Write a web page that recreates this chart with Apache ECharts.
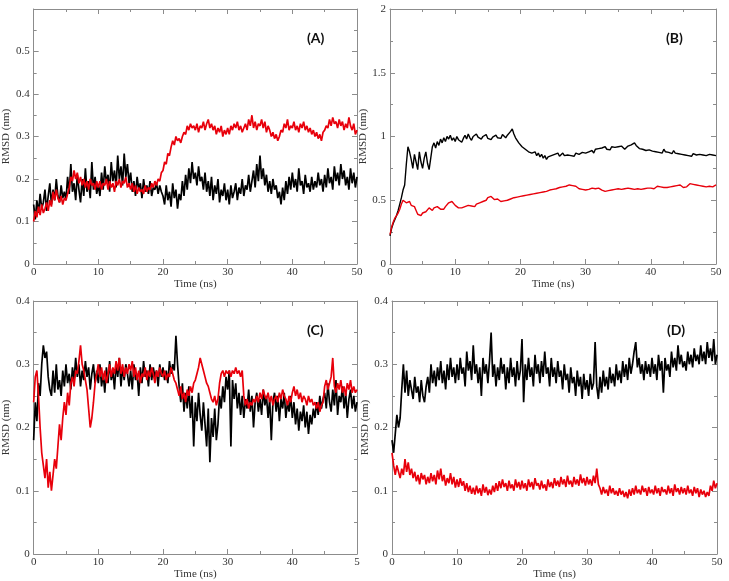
<!DOCTYPE html>
<html>
<head>
<meta charset="utf-8">
<script src="https://cdn.jsdelivr.net/npm/echarts@6/dist/echarts.min.js"></script>
<style>
  html, body { margin: 0; padding: 0; background: #fff; }
  #rmsdCharts { width: 729px; height: 581px; }
</style>
</head>
<body>
<div id="rmsdCharts"></div>
<script>
// sampling grid of the trajectories (ns)
var timeNs = [];
for (var i = 0; i <= 200; i++) timeNs.push(i * 0.25);

var xTicks = [0, 10, 20, 30, 40, 50];

// (A)
var rmsdA_black = [
  0.140,0.105,0.150,0.120,0.165,0.130,0.145,0.175,0.125,0.160,0.190,0.140,0.175,0.150,0.200,0.160,0.145,0.185,0.155,0.170,
  0.150,0.205,0.165,0.235,0.170,0.190,0.150,0.210,0.175,0.145,0.200,0.160,0.225,0.170,0.195,0.155,0.240,0.175,0.205,0.165,
  0.185,0.160,0.215,0.175,0.230,0.190,0.210,0.170,0.240,0.195,0.220,0.180,0.255,0.200,0.230,0.185,0.260,0.205,0.235,0.190,
  0.215,0.170,0.195,0.160,0.205,0.175,0.190,0.155,0.200,0.170,0.185,0.165,0.195,0.160,0.180,0.175,0.190,0.165,0.185,0.170,
  0.160,0.140,0.185,0.150,0.170,0.135,0.190,0.155,0.175,0.130,0.165,0.150,0.195,0.160,0.210,0.175,0.225,0.190,0.240,0.200,
  0.215,0.185,0.230,0.195,0.205,0.175,0.215,0.170,0.195,0.160,0.205,0.150,0.185,0.165,0.200,0.145,0.175,0.160,0.190,0.150,
  0.175,0.140,0.185,0.155,0.170,0.190,0.150,0.180,0.165,0.200,0.160,0.185,0.175,0.210,0.170,0.195,0.220,0.180,0.235,0.195,
  0.255,0.200,0.225,0.185,0.210,0.170,0.195,0.165,0.200,0.175,0.185,0.155,0.170,0.140,0.180,0.150,0.195,0.165,0.205,0.175,
  0.215,0.180,0.200,0.170,0.225,0.185,0.195,0.165,0.210,0.180,0.190,0.170,0.205,0.175,0.195,0.180,0.215,0.185,0.200,0.170,
  0.210,0.180,0.225,0.190,0.205,0.175,0.230,0.195,0.215,0.185,0.235,0.200,0.220,0.185,0.205,0.175,0.225,0.190,0.215,0.180,
  0.205
];
var rmsdA_red = [
  0.100,0.125,0.110,0.135,0.115,0.140,0.120,0.130,0.145,0.125,0.150,0.135,0.170,0.150,0.175,0.155,0.145,0.160,0.140,0.155,
  0.150,0.165,0.180,0.205,0.195,0.220,0.200,0.215,0.190,0.205,0.185,0.200,0.180,0.195,0.175,0.200,0.185,0.190,0.175,0.195,
  0.180,0.195,0.175,0.190,0.185,0.200,0.175,0.195,0.180,0.190,0.170,0.195,0.185,0.200,0.180,0.195,0.190,0.205,0.180,0.190,
  0.175,0.190,0.170,0.185,0.165,0.180,0.170,0.175,0.165,0.185,0.170,0.180,0.175,0.190,0.180,0.195,0.185,0.200,0.195,0.215,
  0.220,0.240,0.235,0.260,0.255,0.275,0.290,0.280,0.300,0.290,0.295,0.285,0.300,0.310,0.305,0.325,0.315,0.330,0.320,0.325,
  0.315,0.330,0.310,0.325,0.320,0.335,0.315,0.330,0.340,0.320,0.330,0.315,0.325,0.305,0.320,0.310,0.325,0.300,0.315,0.305,
  0.320,0.305,0.325,0.315,0.330,0.320,0.335,0.315,0.325,0.310,0.320,0.330,0.315,0.340,0.325,0.350,0.320,0.335,0.315,0.330,
  0.325,0.340,0.320,0.335,0.310,0.325,0.315,0.300,0.310,0.295,0.305,0.290,0.300,0.315,0.310,0.330,0.320,0.340,0.315,0.325,
  0.320,0.335,0.315,0.325,0.310,0.330,0.320,0.335,0.315,0.325,0.310,0.320,0.305,0.315,0.300,0.310,0.295,0.305,0.290,0.310,
  0.315,0.325,0.320,0.340,0.325,0.345,0.330,0.335,0.320,0.340,0.325,0.335,0.315,0.330,0.320,0.345,0.325,0.315,0.330,0.305,
  0.315
];

// (B)
var rmsdB_black = [
  0.220,0.280,0.320,0.350,0.380,0.420,0.470,0.520,0.580,0.620,0.780,0.920,0.880,0.820,0.750,0.860,0.800,0.740,0.880,0.800,
  0.750,0.830,0.880,0.790,0.740,0.830,0.920,0.950,0.910,0.960,0.930,0.980,0.950,0.990,0.960,1.000,0.980,1.010,0.970,0.990,
  0.960,1.000,0.975,0.990,0.955,0.985,1.010,0.980,1.020,0.990,0.970,1.000,0.985,1.020,0.995,1.010,0.980,1.000,0.990,1.015,
  0.985,1.000,0.975,0.995,0.980,1.010,0.990,1.005,0.985,1.015,1.000,0.990,1.010,1.000,1.040,1.060,1.020,0.990,0.970,0.950,
  0.940,0.920,0.930,0.900,0.910,0.880,0.890,0.870,0.860,0.880,0.850,0.870,0.840,0.860,0.830,0.850,0.820,0.840,0.830,0.850,
  0.840,0.860,0.850,0.870,0.845,0.860,0.870,0.850,0.865,0.855,0.870,0.850,0.860,0.845,0.870,0.855,0.860,0.850,0.875,0.860,
  0.870,0.855,0.880,0.865,0.890,0.870,0.900,0.885,0.905,0.890,0.910,0.895,0.920,0.900,0.910,0.895,0.920,0.905,0.915,0.900,
  0.920,0.905,0.925,0.910,0.900,0.915,0.925,0.910,0.935,0.920,0.950,0.930,0.920,0.905,0.915,0.900,0.910,0.890,0.905,0.895,
  0.900,0.885,0.895,0.880,0.890,0.875,0.885,0.870,0.900,0.880,0.895,0.875,0.880,0.865,0.890,0.870,0.880,0.865,0.875,0.860,
  0.870,0.855,0.865,0.850,0.860,0.845,0.865,0.850,0.855,0.840,0.860,0.845,0.855,0.840,0.850,0.835,0.860,0.845,0.855,0.840,
  0.850
];
var rmsdB_red = [
  0.230,0.290,0.330,0.360,0.380,0.400,0.430,0.470,0.500,0.490,0.480,0.470,0.490,0.460,0.470,0.450,0.420,0.390,0.400,0.380,
  0.400,0.390,0.410,0.420,0.440,0.430,0.420,0.440,0.430,0.450,0.440,0.430,0.445,0.430,0.450,0.460,0.480,0.470,0.490,0.475,
  0.460,0.450,0.440,0.455,0.440,0.430,0.450,0.440,0.460,0.450,0.455,0.465,0.450,0.470,0.460,0.480,0.470,0.490,0.480,0.500,
  0.520,0.510,0.530,0.515,0.505,0.520,0.510,0.500,0.490,0.505,0.495,0.485,0.500,0.490,0.510,0.505,0.520,0.515,0.525,0.510,
  0.530,0.520,0.535,0.525,0.540,0.530,0.545,0.535,0.550,0.540,0.555,0.545,0.560,0.550,0.565,0.555,0.570,0.575,0.580,0.570,
  0.585,0.575,0.590,0.580,0.600,0.590,0.605,0.595,0.610,0.600,0.620,0.605,0.615,0.600,0.610,0.595,0.590,0.600,0.585,0.575,
  0.580,0.590,0.585,0.600,0.595,0.605,0.590,0.600,0.595,0.585,0.580,0.575,0.570,0.580,0.575,0.585,0.580,0.590,0.585,0.595,
  0.590,0.600,0.585,0.595,0.590,0.600,0.595,0.605,0.590,0.600,0.585,0.595,0.590,0.600,0.585,0.595,0.590,0.600,0.595,0.585,
  0.595,0.605,0.590,0.600,0.610,0.595,0.605,0.590,0.600,0.610,0.600,0.615,0.605,0.595,0.610,0.600,0.615,0.605,0.620,0.610,
  0.600,0.615,0.605,0.620,0.630,0.615,0.625,0.610,0.620,0.605,0.615,0.600,0.610,0.595,0.605,0.600,0.610,0.620,0.605,0.615,
  0.620
];

// (C)
var rmsdC_black = [
  0.180,0.240,0.210,0.270,0.250,0.300,0.330,0.310,0.320,0.280,0.260,0.250,0.290,0.255,0.300,0.260,0.275,0.250,0.290,0.265,
  0.300,0.270,0.285,0.260,0.295,0.275,0.310,0.280,0.300,0.265,0.290,0.275,0.305,0.280,0.295,0.260,0.285,0.300,0.270,0.290,
  0.270,0.300,0.265,0.285,0.255,0.295,0.270,0.305,0.275,0.290,0.260,0.300,0.280,0.310,0.265,0.295,0.275,0.300,0.285,0.265,
  0.290,0.260,0.300,0.275,0.285,0.250,0.295,0.270,0.305,0.280,0.290,0.265,0.300,0.275,0.295,0.280,0.290,0.265,0.300,0.280,
  0.295,0.275,0.290,0.270,0.305,0.285,0.300,0.290,0.345,0.300,0.265,0.240,0.270,0.225,0.255,0.230,0.265,0.215,0.250,0.170,
  0.240,0.210,0.255,0.220,0.195,0.240,0.205,0.170,0.230,0.145,0.215,0.185,0.230,0.180,0.205,0.250,0.230,0.265,0.240,0.280,
  0.260,0.290,0.170,0.275,0.245,0.270,0.230,0.255,0.220,0.250,0.215,0.245,0.230,0.260,0.225,0.250,0.200,0.240,0.255,0.225,
  0.245,0.220,0.260,0.235,0.250,0.215,0.245,0.180,0.240,0.255,0.225,0.250,0.210,0.245,0.230,0.255,0.215,0.240,0.225,0.250,
  0.215,0.240,0.205,0.230,0.195,0.225,0.210,0.235,0.200,0.225,0.190,0.220,0.205,0.230,0.215,0.240,0.220,0.250,0.230,0.245,
  0.255,0.230,0.270,0.240,0.225,0.260,0.235,0.275,0.220,0.250,0.240,0.265,0.230,0.255,0.215,0.245,0.260,0.230,0.250,0.225,
  0.240
];
var rmsdC_red = [
  0.240,0.280,0.290,0.250,0.200,0.160,0.140,0.120,0.150,0.105,0.130,0.100,0.125,0.150,0.135,0.170,0.205,0.180,0.215,0.240,
  0.220,0.255,0.235,0.270,0.280,0.265,0.290,0.285,0.305,0.330,0.300,0.290,0.275,0.260,0.230,0.200,0.215,0.240,0.270,0.285,
  0.300,0.280,0.295,0.275,0.290,0.270,0.285,0.300,0.280,0.295,0.285,0.305,0.290,0.310,0.285,0.300,0.280,0.295,0.285,0.300,
  0.290,0.305,0.280,0.295,0.275,0.290,0.270,0.285,0.280,0.295,0.275,0.290,0.280,0.295,0.285,0.270,0.290,0.280,0.295,0.285,
  0.280,0.290,0.275,0.285,0.280,0.295,0.285,0.275,0.270,0.260,0.250,0.265,0.245,0.255,0.240,0.260,0.250,0.265,0.255,0.270,
  0.275,0.285,0.295,0.310,0.300,0.290,0.280,0.270,0.265,0.255,0.245,0.240,0.250,0.235,0.245,0.270,0.285,0.290,0.280,0.290,
  0.285,0.290,0.280,0.290,0.285,0.295,0.285,0.290,0.280,0.290,0.250,0.235,0.245,0.230,0.240,0.235,0.245,0.240,0.250,0.240,
  0.255,0.245,0.260,0.250,0.245,0.255,0.240,0.250,0.235,0.245,0.250,0.240,0.255,0.245,0.260,0.250,0.245,0.235,0.250,0.240,
  0.255,0.265,0.250,0.260,0.245,0.255,0.240,0.250,0.245,0.235,0.250,0.240,0.245,0.235,0.240,0.230,0.240,0.225,0.235,0.240,
  0.265,0.275,0.260,0.270,0.280,0.310,0.265,0.255,0.270,0.260,0.275,0.255,0.265,0.250,0.270,0.260,0.275,0.255,0.265,0.255,
  0.260
];

// (D)
var rmsdD_black = [
  0.180,0.160,0.190,0.220,0.200,0.215,0.260,0.300,0.255,0.290,0.250,0.275,0.260,0.245,0.280,0.255,0.265,0.240,0.275,0.250,
  0.240,0.265,0.280,0.255,0.300,0.270,0.290,0.265,0.295,0.275,0.305,0.270,0.290,0.260,0.300,0.275,0.310,0.280,0.295,0.270,
  0.300,0.275,0.310,0.285,0.295,0.265,0.320,0.290,0.305,0.275,0.330,0.285,0.300,0.270,0.295,0.250,0.310,0.285,0.300,0.270,
  0.305,0.350,0.280,0.300,0.265,0.295,0.275,0.310,0.285,0.300,0.260,0.295,0.270,0.310,0.280,0.295,0.265,0.305,0.275,0.290,
  0.340,0.240,0.300,0.275,0.310,0.280,0.295,0.265,0.315,0.285,0.300,0.270,0.305,0.280,0.320,0.285,0.295,0.265,0.310,0.280,
  0.295,0.270,0.305,0.280,0.290,0.260,0.300,0.275,0.285,0.255,0.295,0.270,0.280,0.250,0.290,0.265,0.280,0.245,0.285,0.260,
  0.275,0.250,0.285,0.260,0.270,0.335,0.265,0.245,0.280,0.255,0.290,0.265,0.280,0.260,0.295,0.270,0.285,0.265,0.300,0.275,
  0.290,0.270,0.305,0.280,0.300,0.275,0.310,0.285,0.300,0.320,0.335,0.295,0.310,0.285,0.300,0.275,0.305,0.285,0.300,0.280,
  0.310,0.285,0.300,0.275,0.315,0.290,0.305,0.255,0.310,0.290,0.300,0.280,0.320,0.295,0.310,0.290,0.330,0.300,0.315,0.295,
  0.305,0.290,0.320,0.300,0.315,0.295,0.325,0.305,0.315,0.300,0.330,0.305,0.320,0.300,0.335,0.310,0.325,0.305,0.340,0.300,
  0.315
];
var rmsdD_red = [
  0.160,0.140,0.125,0.140,0.130,0.120,0.135,0.125,0.150,0.130,0.145,0.125,0.135,0.120,0.130,0.115,0.125,0.110,0.128,0.118,
  0.125,0.110,0.122,0.112,0.128,0.115,0.125,0.110,0.132,0.118,0.135,0.115,0.125,0.108,0.120,0.112,0.128,0.110,0.122,0.105,
  0.118,0.106,0.120,0.108,0.115,0.100,0.112,0.098,0.108,0.095,0.105,0.094,0.108,0.096,0.104,0.092,0.110,0.097,0.106,0.093,
  0.102,0.094,0.108,0.098,0.112,0.100,0.115,0.104,0.118,0.106,0.112,0.100,0.116,0.104,0.110,0.100,0.118,0.105,0.114,0.102,
  0.116,0.104,0.112,0.100,0.118,0.106,0.114,0.102,0.120,0.108,0.112,0.102,0.116,0.104,0.110,0.100,0.118,0.106,0.114,0.104,
  0.120,0.108,0.116,0.106,0.122,0.110,0.118,0.106,0.124,0.110,0.116,0.106,0.122,0.110,0.118,0.108,0.126,0.112,0.120,0.108,
  0.122,0.110,0.118,0.108,0.124,0.112,0.135,0.110,0.104,0.094,0.106,0.096,0.102,0.092,0.108,0.096,0.104,0.094,0.100,0.092,
  0.104,0.094,0.100,0.090,0.098,0.088,0.102,0.092,0.104,0.094,0.108,0.096,0.102,0.094,0.108,0.098,0.104,0.092,0.106,0.096,
  0.102,0.094,0.108,0.096,0.104,0.092,0.106,0.098,0.102,0.094,0.108,0.096,0.104,0.092,0.110,0.098,0.104,0.094,0.106,0.096,
  0.104,0.094,0.108,0.096,0.102,0.092,0.106,0.096,0.104,0.090,0.102,0.094,0.100,0.090,0.098,0.092,0.108,0.100,0.116,0.104,
  0.112
];

var panels = [
  { tag: '(A)', left: 31,  top: 9,   width: 326, height: 255, yMax: 0.6, yStep: 0.1, hideTop: true,  lw: 1.7, black: rmsdA_black, red: rmsdA_red },
  { tag: '(B)', left: 390, top: 9,   width: 326, height: 255, yMax: 2,   yStep: 0.5, hideTop: false, lw: 1.4, black: rmsdB_black, red: rmsdB_red },
  { tag: '(C)', left: 32,  top: 301, width: 325, height: 254, yMax: 0.4, yStep: 0.1, hideTop: false, lw: 1.7, black: rmsdC_black, red: rmsdC_red, cutLast: true },
  { tag: '(D)', left: 392, top: 301, width: 325, height: 254, yMax: 0.4, yStep: 0.1, hideTop: false, lw: 1.7, black: rmsdD_black, red: rmsdD_red }
];

var frameColor = '#8c8c8c';
var labelFont = { color: '#333', fontFamily: 'Liberation Serif', fontSize: 11 };

function toPairs(vals) {
  return vals.map(function (v, i) { return [timeNs[i], v]; });
}

var grid = [], xAxis = [], yAxis = [], series = [], graphic = [];

panels.forEach(function (p, k) {
  grid.push({ left: p.left, top: p.top, width: p.width, height: p.height, show: false });

  var tick = { inside: true, length: 5, lineStyle: { color: frameColor } };
  var minor = { show: true, splitNumber: 2, length: 3, lineStyle: { color: frameColor } };
  var line = { show: true, onZero: false, lineStyle: { color: frameColor, width: 1 } };

  // bottom + top x axes
  xAxis.push({
    gridIndex: k, type: 'value', min: 0, max: 50, interval: 10, position: 'bottom',
    name: 'Time (ns)', nameLocation: 'middle', nameGap: 15,
    nameTextStyle: { color: '#333', fontFamily: 'Liberation Serif', fontSize: 11 },
    axisLine: line, axisTick: tick, minorTick: minor, splitLine: { show: false },
    axisLabel: Object.assign({ margin: 3, formatter: function (v) {
      // the reference crops the last label of panel C
      return (p.cutLast && v === 50) ? '5' : String(v);
    } }, labelFont)
  });
  xAxis.push({
    gridIndex: k, type: 'value', min: 0, max: 50, interval: 10, position: 'top',
    axisLine: line, axisTick: tick, minorTick: minor, splitLine: { show: false },
    axisLabel: { show: false }
  });

  // left + right y axes
  yAxis.push({
    gridIndex: k, type: 'value', min: 0, max: p.yMax, interval: p.yStep, position: 'left',
    name: 'RMSD (nm)', nameLocation: 'middle', nameGap: 18, nameRotate: 90,
    nameTextStyle: { color: '#333', fontFamily: 'Liberation Serif', fontSize: 11 },
    axisLine: line, axisTick: tick, minorTick: minor, splitLine: { show: false },
    axisLabel: Object.assign({ margin: 4, showMaxLabel: !p.hideTop }, labelFont)
  });
  yAxis.push({
    gridIndex: k, type: 'value', min: 0, max: p.yMax, interval: p.yStep, position: 'right',
    axisLine: line, axisTick: tick, minorTick: minor, splitLine: { show: false },
    axisLabel: { show: false }
  });

  [['black', '#000000'], ['red', '#e8000b']].forEach(function (s) {
    series.push({
      type: 'line', xAxisIndex: k * 2, yAxisIndex: k * 2,
      data: toPairs(p[s[0]]), showSymbol: false, symbol: 'none', animation: false,
      lineStyle: { color: s[1], width: p.lw }, silent: true
    });
  });

  graphic.push({
    type: 'text', left: p.left + p.width - 50, top: p.top + 22,
    style: { text: p.tag, fill: '#111', font: 'bold 14px Lato' }
  });
});

var chart = echarts.init(document.getElementById('rmsdCharts'));
chart.setOption({
  backgroundColor: '#fff',
  animation: false,
  grid: grid,
  xAxis: xAxis,
  yAxis: yAxis,
  series: series,
  graphic: graphic
});
</script>
</body>
</html>
